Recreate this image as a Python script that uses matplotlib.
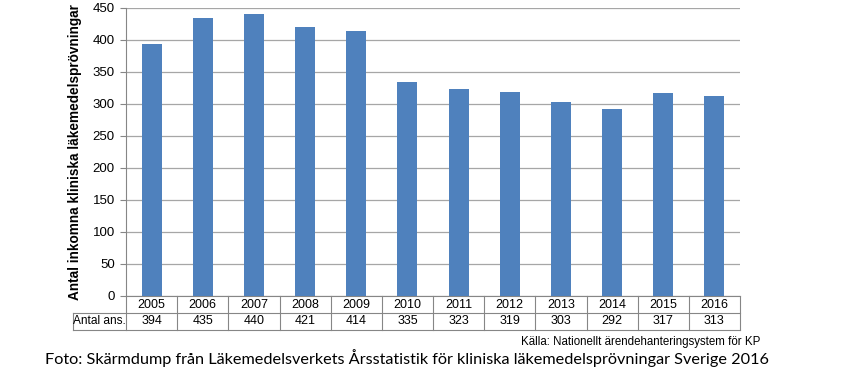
import matplotlib
matplotlib.use("Agg")
import matplotlib.pyplot as plt
from matplotlib.lines import Line2D

years = ["2005", "2006", "2007", "2008", "2009", "2010", "2011", "2012", "2013", "2014", "2015", "2016"]
values = [394, 435, 440, 421, 414, 335, 323, 319, 303, 292, 317, 313]
row_label = "Antal ans."
y_label = "Antal inkomna kliniska läkemedelsprövningar"
source = "Källa: Nationellt ärendehanteringsystem för KP"
caption = "Foto: Skärmdump från Läkemedelsverkets Årsstatistik för kliniska läkemedelsprövningar Sverige 2016"

plt.rcParams['font.family'] = ['Liberation Sans', 'DejaVu Sans']

fig = plt.figure(figsize=(8.5, 3.7), dpi=100)
W, H = 850, 370
x0, x1, ytop, ybot = 126, 740, 8, 296
ax = fig.add_axes([x0 / W, (H - ybot) / H, (x1 - x0) / W, (ybot - ytop) / H])

xs = list(range(len(years)))
ax.bar(xs, values, width=0.39, color="#4F81BD", zorder=3)
ax.set_xlim(-0.5, len(years) - 0.5)
ax.set_ylim(0, 450)
ax.set_yticks(range(0, 451, 50))
ax.yaxis.grid(True, color="#A6A6A6", linewidth=0.9, zorder=0)
ax.tick_params(axis="y", labelsize=9.5, length=4, width=0.8, color="#868686", pad=4)
ax.set_xticks([])
for s in ["top", "right"]:
    ax.spines[s].set_visible(False)
ax.spines["left"].set_color("#868686")
ax.spines["bottom"].set_color("#868686")
ax.set_ylabel(y_label, fontsize=9.8, fontweight="bold", labelpad=8)

# data table below axes
lc = "#868686"
def fx(px):
    return px / W
def fy(py):
    return (H - py) / H

r0, r1, r2 = 296, 313, 330
left_tab = 73
cw = (x1 - x0) / len(years)
lines = []
lines.append(((left_tab, x1), (r1, r1)))
lines.append(((left_tab, x1), (r2, r2)))
lines.append(((left_tab, left_tab), (r1, r2)))
for i in range(len(years) + 1):
    xp = x0 + i * cw
    lines.append(((xp, xp), (r0, r2)))
for (xa, xb), (ya, yb) in lines:
    fig.add_artist(Line2D([fx(xa), fx(xb)], [fy(ya), fy(yb)], color=lc, linewidth=0.8))

for i, (yr, v) in enumerate(zip(years, values)):
    cx = x0 + (i + 0.5) * cw
    fig.text(fx(cx), fy((r0 + r1) / 2), yr, ha="center", va="center", fontsize=9)
    fig.text(fx(cx), fy((r1 + r2) / 2), str(v), ha="center", va="center", fontsize=9)
fig.text(fx((left_tab + x0) / 2), fy((r1 + r2) / 2), row_label, ha="center", va="center", fontsize=8.6)

fig.text(fx(760), fy(342), source, ha="right", va="center", fontsize=8.3)
fig.text(fx(45), fy(358), caption, ha="left", va="center", fontsize=11.7, family=["Lato", "DejaVu Sans"])

fig.savefig("out.png", dpi=100)
